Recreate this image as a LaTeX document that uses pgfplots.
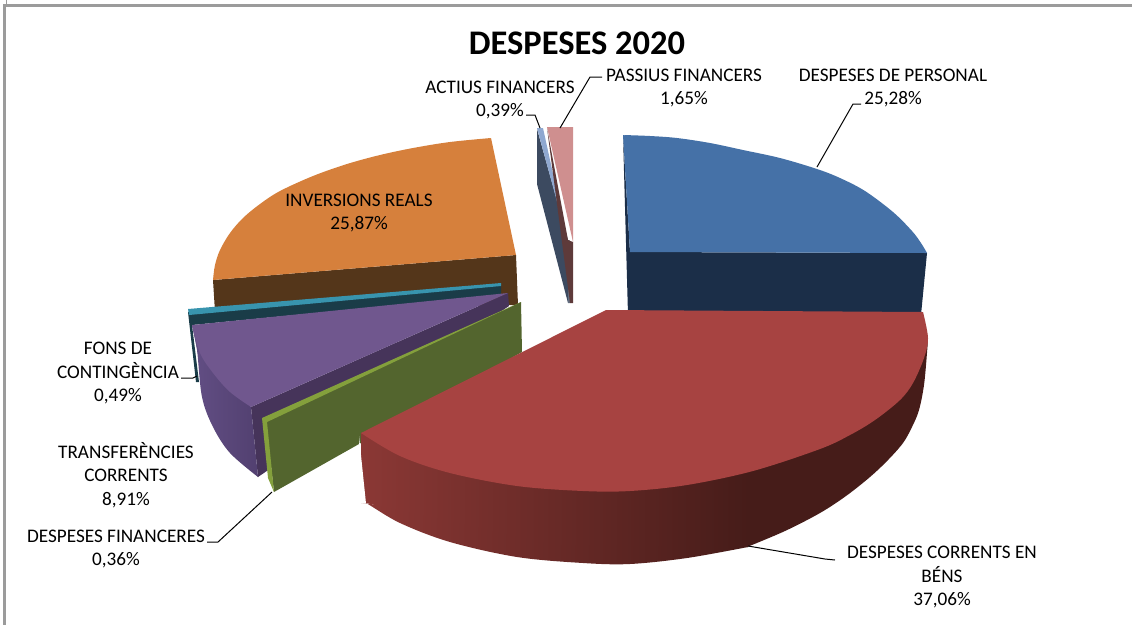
\documentclass[border=0pt]{standalone}
\usepackage{pgfplots}
\pgfplotsset{compat=1.18}
\usepackage{fontspec}
\setmainfont{Carlito}
\definecolor{bluetop}{RGB}{69,113,167}
\definecolor{bluewall}{RGB}{27,46,72}
\definecolor{redtop}{RGB}{167,67,65}
\definecolor{redl}{RGB}{139,56,53}
\definecolor{redd}{RGB}{70,28,25}
\definecolor{orangetop}{RGB}{214,128,60}
\definecolor{orangewall}{RGB}{84,54,26}
\definecolor{tealtop}{RGB}{56,148,174}
\definecolor{tealwall}{RGB}{26,60,72}
\definecolor{purpletop}{RGB}{112,87,142}
\definecolor{purplel}{RGB}{98,78,132}
\definecolor{purpler}{RGB}{82,64,112}
\definecolor{purplewall}{RGB}{70,52,90}
\definecolor{greentop}{RGB}{132,160,60}
\definecolor{greenwall}{RGB}{83,101,46}
\definecolor{actiustop}{RGB}{143,168,208}
\definecolor{actiuswall}{RGB}{60,74,96}
\definecolor{passiustop}{RGB}{207,143,143}
\definecolor{passiuswall}{RGB}{94,58,58}
\definecolor{frame}{RGB}{155,155,155}
\tikzset{lab/.style={font=\fontsize{19.2}{23.7}\selectfont, align=center, text=black, inner sep=0pt, anchor=center}}
\pgfplotsset{face/.style={draw=none, mark=none, forget plot},
 arc/.style={draw=none, mark=none, forget plot, smooth, tension=0.55},
 lead/.style={draw=black, line width=1pt, mark=none, forget plot}}
\begin{document}%
\begin{tikzpicture}%
\begin{axis}[at={(0,0)}, anchor=south west, scale only axis, width=1132pt, height=625pt, xmin=0, xmax=1132, ymin=0, ymax=625, y dir=reverse, hide axis, clip=false]
% frame
\addplot[draw=frame, line width=2.5pt, mark=none, forget plot] coordinates {(1132,5.5) (4.5,5.5) (4.5,625)};
\addplot[draw=frame, line width=1pt, mark=none, forget plot] coordinates {(6.5,0) (6.5,5)};
% orange
\addplot[face, fill=orangewall] coordinates {(213,280) (516,255) (518,305) (215,312)} --cycle;
\addplot[arc, fill=orangetop] coordinates {(491,138) (450,142) (413,148) (380,155) (347,164) (313,176) (280,191) (260,204) (243,218) (230,233) (220,250) (215,265) (213,280)};
\addplot[face, fill=orangetop] coordinates {(491,138) (320,195) (213,280) (516,255)} --cycle;
% blue
\addplot[face, fill=bluewall] coordinates {(623,135) (630,252) (927,253) (921,315) (628,315)} --cycle;
\addplot[arc, fill=bluetop] coordinates {(623,135) (650,136) (677,138) (710,143) (743,150) (780,158) (817,169) (840,178) (865,191) (893,212) (912,231) (921,243) (927,253)};
\addplot[face, fill=bluetop] coordinates {(623,135) (800,185) (927,253) (630,252)} --cycle;
% actius
\addplot[face, fill=actiuswall] coordinates {(537,129) (537,184) (568,303) (568,240)} --cycle;
\addplot[face, fill=actiustop] coordinates {(537,128) (543,128) (568,242)} --cycle;
\addplot[face, fill=actiuswall!80!white] coordinates {(568,240) (569.5,240) (570,303) (568,303)} --cycle;
% passius
\addplot[face, fill=passiuswall] coordinates {(547,128) (568,240) (573,242) (573,303) (570,303)} --cycle;
\addplot[face, fill=passiustop] coordinates {(547,127) (573,127) (573,242)} --cycle;
% teal
\addplot[face, fill=tealwall] coordinates {(188,312) (501,285) (501,295) (192,325) (199,382) (196,382)} --cycle;
\addplot[face, fill=tealtop] coordinates {(188,309) (501,283) (501,286) (189,315)} --cycle;
% purple
\addplot[face, fill=purplewall] coordinates {(251,407) (508,293) (509,306) (258,477)} --cycle;
\addplot[arc, left color=purplel, right color=purpler] coordinates {(192,325) (197,350) (202,397) (213,427) (230,453) (258,477)};
\addplot[face, left color=purplel, right color=purpler] coordinates {(192,325) (210,410) (258,477) (251,407)} --cycle;
\addplot[arc, fill=purpletop] coordinates {(192,325) (200,353) (213,373) (230,392) (251,407)};
\addplot[face, fill=purpletop] coordinates {(192,325) (212,365) (251,407) (508,293)} --cycle;
% green
\addplot[face, fill=greenwall] coordinates {(266,421) (521,302) (522,352) (274,492)} --cycle;
\addplot[face, fill=greentop] coordinates {(262,418) (521,302) (267,422) (274,492) (268,478)} --cycle;
% red wall
\addplot[arc, left color=redl, right color=redd] coordinates {(361,503) (366,503) (400,523) (450,542) (517,557) (583,563) (630,564) (687,558) (748,547)};
\addplot[face, left color=redl, right color=redd] coordinates {(361,433) (361,503) (366,503) (557,545) (748,547) (748,472)} --cycle;
\addplot[arc, fill=redd] coordinates {(747,547) (785,531) (820,513) (846,496) (870,477) (888,460) (903,443) (912,427) (919,410) (924,385) (927,353) (928,338)};
\addplot[face, fill=redd] coordinates {(747,547) (860,470) (928,338) (747,472)} --cycle;
\addplot[face, fill=white] coordinates {(359,436) (366,503.5) (359,503.5)} --cycle;
% red top
\addplot[arc, fill=redtop] coordinates {(361,433) (400,456) (450,473) (517,486) (583,491) (630,491) (687,485) (753,471) (820,449) (850,435) (875,420) (900,400) (913,383) (924,358) (928,338) (923,312)};
\addplot[face, fill=redtop] coordinates {(361,433) (650,470) (923,312) (606,310)} --cycle;
% leaders
\addplot[lead] coordinates {(861,104) (853,104) (817,167)};
\addplot[lead] coordinates {(602,77) (590,77) (560,128)};
\addplot[lead] coordinates {(526,115) (535,115) (540,128)};
\addplot[lead] coordinates {(181,378) (193,378) (197,376)};
\addplot[lead] coordinates {(207,542) (218,542) (272,492)};
\addplot[lead] coordinates {(835,560) (825,559) (748,546)};
% text
\node[lab, font=\fontsize{34.5}{38}\selectfont\bfseries] at (axis cs:577,43) {DESPESES 2020};
\node[lab] at (axis cs:893,88) {DESPESES DE PERSONAL\\25,28\%};
\node[lab] at (axis cs:684,88) {PASSIUS FINANCERS\\1,65\%};
\node[lab] at (axis cs:500,100) {ACTIUS FINANCERS\\0,39\%};
\node[lab] at (axis cs:359,213) {INVERSIONS REALS\\25,87\%};
\node[lab] at (axis cs:118,373) {FONS DE\\CONTINGÈNCIA\\0,49\%};
\node[lab] at (axis cs:126,475) {TRANSFERÈNCIES\\CORRENTS\\8,91\%};
\node[lab] at (axis cs:116,549) {DESPESES FINANCERES\\0,36\%};
\node[lab] at (axis cs:942,577) {DESPESES CORRENTS EN\\BÉNS\\37,06\%};
\end{axis}
\pgfresetboundingbox
\path[use as bounding box] (0,0) rectangle (1132pt,625pt);
\end{tikzpicture}%
\end{document}
